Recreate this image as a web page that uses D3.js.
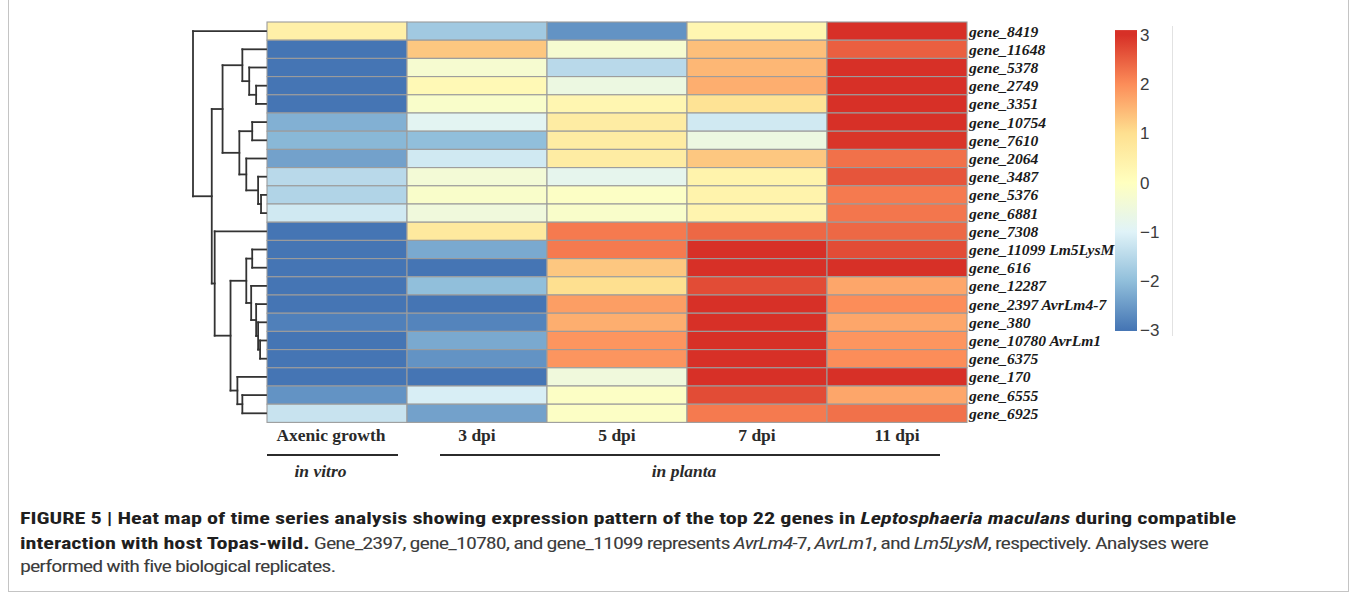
<!DOCTYPE html>
<html>
<head>
<meta charset="utf-8">
<script src="https://cdn.jsdelivr.net/npm/d3@7"></script>
<style>
  body { margin: 0; background: #fff; }
  svg { display: block; }
</style>
</head>
<body>
<div id="chart"></div>
<script>
// Data
const conditions = ["Axenic growth", "3 dpi", "5 dpi", "7 dpi", "11 dpi"];
const genes = [
    "gene_8419", "gene_11648", "gene_5378", "gene_2749", "gene_3351", "gene_10754",
    "gene_7610", "gene_2064", "gene_3487", "gene_5376", "gene_6881", "gene_7308",
    "gene_11099 Lm5LysM", "gene_616", "gene_12287", "gene_2397 AvrLm4-7", "gene_380",
    "gene_10780 AvrLm1", "gene_6375", "gene_170", "gene_6555", "gene_6925"
];
// z-scores, one row per gene, columns follow `conditions`
const values = [
    [0.5, -1.8, -2.6, 0.3, 3.0],
    [-3.0, 1.3, -0.3, 1.4, 2.5],
    [-3.0, -0.3, -1.5, 1.5, 3.0],
    [-3.0, 0.2, -0.6, 1.6, 3.0],
    [-3.0, -0.2, 0.3, 0.9, 3.0],
    [-2.2, -0.9, 0.6, -1.2, 3.0],
    [-2.1, -2.0, 0.6, -0.6, 2.95],
    [-2.4, -1.2, 0.6, 1.3, 2.3],
    [-1.5, -0.4, -0.8, 0.4, 2.6],
    [-1.6, -0.2, -0.1, 0.4, 2.2],
    [-1.2, -0.5, -0.2, 0.35, 2.25],
    [-3.0, 0.7, 2.2, 2.4, 2.4],
    [-3.0, -2.3, 2.2, 3.0, 2.7],
    [-3.0, -3.0, 1.3, 3.0, 3.0],
    [-3.0, -2.0, 1.0, 2.7, 1.7],
    [-3.0, -3.0, 1.8, 3.0, 2.0],
    [-2.85, -2.8, 1.6, 3.0, 1.7],
    [-3.0, -2.3, 1.9, 3.0, 1.9],
    [-3.0, -2.6, 1.9, 3.0, 2.0],
    [-3.0, -3.0, -0.5, 3.0, 3.0],
    [-2.6, -1.1, -0.1, 2.7, 1.7],
    [-1.3, -2.4, -0.1, 2.2, 2.3]
];
// row dendrogram: [node, child, child, merge height]
const merges = [
    ["a1", "gene_2749", "gene_3351", 1.35],
    ["a2", "gene_5378", "a1", 2.30],
    ["a3", "gene_11648", "a2", 3.24],
    ["b1", "gene_10754", "gene_7610", 1.89],
    ["c1", "gene_5376", "gene_6881", 0.68],
    ["c2", "gene_3487", "c1", 1.08],
    ["c3", "gene_2064", "c2", 2.70],
    ["b2", "b1", "c3", 3.65],
    ["A", "a3", "b2", 5.95],
    ["d1", "gene_11099 Lm5LysM", "gene_616", 1.89],
    ["h1", "gene_10780 AvrLm1", "gene_6375", 0.81],
    ["e3", "gene_380", "h1", 1.08],
    ["e2", "gene_2397 AvrLm4-7", "e3", 1.35],
    ["e1", "gene_12287", "e2", 2.03],
    ["D", "d1", "e1", 2.70],
    ["g1", "gene_6555", "gene_6925", 3.24],
    ["g2", "gene_170", "g1", 3.92],
    ["Bp", "D", "g2", 4.86],
    ["B", "gene_7308", "Bp", 7.03],
    ["N1", "A", "B", 7.43],
    ["root", "gene_8419", "N1", 10]
];
const legendTicks = [3, 2, 1, 0, -1, -2, -3];
const paletteBreaks = [-3, -2, -1, 0, 1, 2, 3];
const palette = ["#4575b4", "#91bfdb", "#e0f3f8", "#ffffbf", "#fee090", "#fc8d59", "#d73027"];
const groups = [
    { label: "in vitro", first: 0, last: 0 },
    { label: "in planta", first: 1, last: 4 }
];

const width = 1357, height = 600;

const svg = d3.select("#chart")
    .append("svg")
    .attr("width", width)
    .attr("height", height);

// figure frame
svg.append("rect")
    .attr("x", 8.5).attr("y", -2)
    .attr("width", 1340).attr("height", 593.5)
    .attr("fill", "none")
    .attr("stroke", "#c4c4c4");

// Scales
const xScale = d3.scaleBand().domain(d3.range(conditions.length)).range([267, 967]);
const yScale = d3.scaleBand().domain(genes).range([22, 422.4]);
const color = d3.scaleLinear().domain(paletteBreaks).range(palette).clamp(true);
const hScale = d3.scaleLinear().domain([0, 10]).range([266, 193]);

// Heat map cells
const cells = [];
values.forEach((row, i) => row.forEach((v, j) => cells.push({ gene: genes[i], col: j, v })));

svg.append("g")
    .selectAll("rect")
    .data(cells)
    .join("rect")
    .attr("x", d => xScale(d.col))
    .attr("y", d => yScale(d.gene))
    .attr("width", xScale.bandwidth())
    .attr("height", yScale.bandwidth())
    .attr("fill", d => color(d.v))
    .attr("stroke", "#9c9c9c")
    .attr("stroke-width", 1.1);

// Row labels
svg.append("g")
    .selectAll("text")
    .data(genes)
    .join("text")
    .attr("x", 969)
    .attr("y", d => yScale(d) + yScale.bandwidth() / 2)
    .attr("dy", "0.35em")
    .style("font-family", "'Liberation Serif', 'Times New Roman', serif")
    .style("font-weight", "bold")
    .style("font-style", "italic")
    .style("font-size", "15.6px")
    .attr("fill", "#1a1a1a")
    .text(d => d);

// Column labels
svg.append("g")
    .selectAll("text")
    .data(conditions)
    .join("text")
    .attr("x", (d, i) => xScale(i) + xScale.bandwidth() / 2 - (i === 0 ? 6 : 0))
    .attr("y", 441)
    .attr("text-anchor", "middle")
    .style("font-family", "'Liberation Serif', 'Times New Roman', serif")
    .style("font-weight", "bold")
    .style("font-size", "17.5px")
    .attr("fill", "#2a2a2a")
    .text(d => d);

// Group brackets
const groupLine = [
    { x1: d => xScale(d.first), x2: d => xScale(d.first) + xScale.bandwidth() - 9 },
    { x1: d => xScale(d.first) + 33, x2: d => xScale(d.last) + 113 }
];
const groupG = svg.append("g")
    .selectAll("g")
    .data(groups)
    .join("g");
groupG.append("line")
    .attr("x1", (d, i) => groupLine[i].x1(d))
    .attr("x2", (d, i) => groupLine[i].x2(d))
    .attr("y1", 455).attr("y2", 455)
    .attr("stroke", "#2b2b2b")
    .attr("stroke-width", 2);
groupG.append("text")
    .attr("x", (d, i) => (groupLine[i].x1(d) + groupLine[i].x2(d)) / 2 - (i === 0 ? 12 : 6))
    .attr("y", 477)
    .attr("text-anchor", "middle")
    .style("font-family", "'Liberation Serif', 'Times New Roman', serif")
    .style("font-weight", "bold")
    .style("font-style", "italic")
    .style("font-size", "17.5px")
    .attr("fill", "#2a2a2a")
    .text(d => d.label);

// Dendrogram
const nodes = new Map();
genes.forEach(g => nodes.set(g, { y: yScale(g) + yScale.bandwidth() / 2, h: 0 }));
const segs = [];
merges.forEach(([id, a, b, h]) => {
    const na = nodes.get(a), nb = nodes.get(b);
    segs.push([hScale(h), na.y, hScale(h), nb.y]);
    segs.push([hScale(h), na.y, hScale(na.h), na.y]);
    segs.push([hScale(h), nb.y, hScale(nb.h), nb.y]);
    nodes.set(id, { y: (na.y + nb.y) / 2, h });
});
svg.append("g")
    .selectAll("line")
    .data(segs)
    .join("line")
    .attr("x1", d => d[0]).attr("y1", d => d[1])
    .attr("x2", d => d[2]).attr("y2", d => d[3])
    .attr("stroke", "#333")
    .attr("stroke-width", 1.8)
    .attr("stroke-linecap", "square");

// Colour key
const legendY = d3.scaleLinear().domain([-3, 3]).range([330, 35]);
const grad = svg.append("defs").append("linearGradient")
    .attr("id", "key")
    .attr("x1", 0).attr("y1", 1).attr("x2", 0).attr("y2", 0);
const keyTop = 3.1, keyBottom = -3.02;
paletteBreaks.forEach(b => {
    grad.append("stop")
        .attr("offset", (b - keyBottom) / (keyTop - keyBottom))
        .attr("stop-color", color(b));
});
svg.append("rect")
    .attr("x", 1115).attr("width", 22)
    .attr("y", legendY(keyTop))
    .attr("height", legendY(keyBottom) - legendY(keyTop))
    .attr("fill", "url(#key)");
svg.append("g")
    .selectAll("text")
    .data(legendTicks)
    .join("text")
    .attr("x", 1140)
    .attr("y", d => legendY(d))
    .attr("dy", "0.36em")
    .style("font-family", "'Liberation Sans', Arial, sans-serif")
    .style("font-size", "17px")
    .attr("fill", "#3c3c3c")
    .text(d => d < 0 ? "\u2212" + Math.abs(d) : d);
svg.append("line")
    .attr("x1", 1172.5).attr("x2", 1172.5)
    .attr("y1", 26).attr("y2", 336)
    .attr("stroke", "#e2e2e2");

// Caption (condensed look: one horizontal squeeze fitted to line 1,
// regular text tightened a bit more so line 2 ends where it should)
const captionLines = [
    { y: 524, parts: [
        ["FIGURE 5 | Heat map of time series analysis showing expression pattern of the top 22 genes in ", "bold", "normal"],
        ["Leptosphaeria maculans", "bold", "italic"],
        [" during compatible", "bold", "normal"]] },
    { y: 549, parts: [
        ["interaction with host Topas-wild.", "bold", "normal"],
        [" Gene_2397, gene_10780, and gene_11099 represents ", "normal", "normal"],
        ["AvrLm4", "normal", "italic"],
        ["-7, ", "normal", "normal"],
        ["AvrLm1", "normal", "italic"],
        [", and ", "normal", "normal"],
        ["Lm5LysM", "normal", "italic"],
        [", respectively. Analyses were", "normal", "normal"]] },
    { y: 572, parts: [
        ["performed with five biological replicates.", "normal", "normal"]] }
];
const cap = svg.append("g")
    .selectAll("text")
    .data(captionLines)
    .join("text")
    .attr("x", 0)
    .attr("y", 0)
    .style("font-family", "'Liberation Sans Narrow', 'Roboto Condensed', Roboto, 'Liberation Sans', Arial, sans-serif")
    .style("font-size", "17px");
const spans = cap.selectAll("tspan")
    .data(d => d.parts)
    .join("tspan")
    .style("font-weight", d => d[1])
    .style("font-style", d => d[2])
    .attr("fill", d => d[1] === "bold" ? "#1f1f1f" : "#3d3d3d")
    .text(d => d[0]);
const capNodes = cap.nodes();
const squeeze = 1217 / capNodes[0].getComputedTextLength();
const line2Target = 1189 / squeeze;
const regularChars = d3.sum(captionLines[1].parts.filter(p => p[1] === "normal"), p => p[0].length);
const tighten = (capNodes[1].getComputedTextLength() - line2Target) / regularChars;
spans.filter(d => d[1] === "normal").style("letter-spacing", `${-tighten}px`);
cap.attr("transform", d => `translate(20,${d.y}) scale(${squeeze},1)`);
</script>
</body>
</html>
